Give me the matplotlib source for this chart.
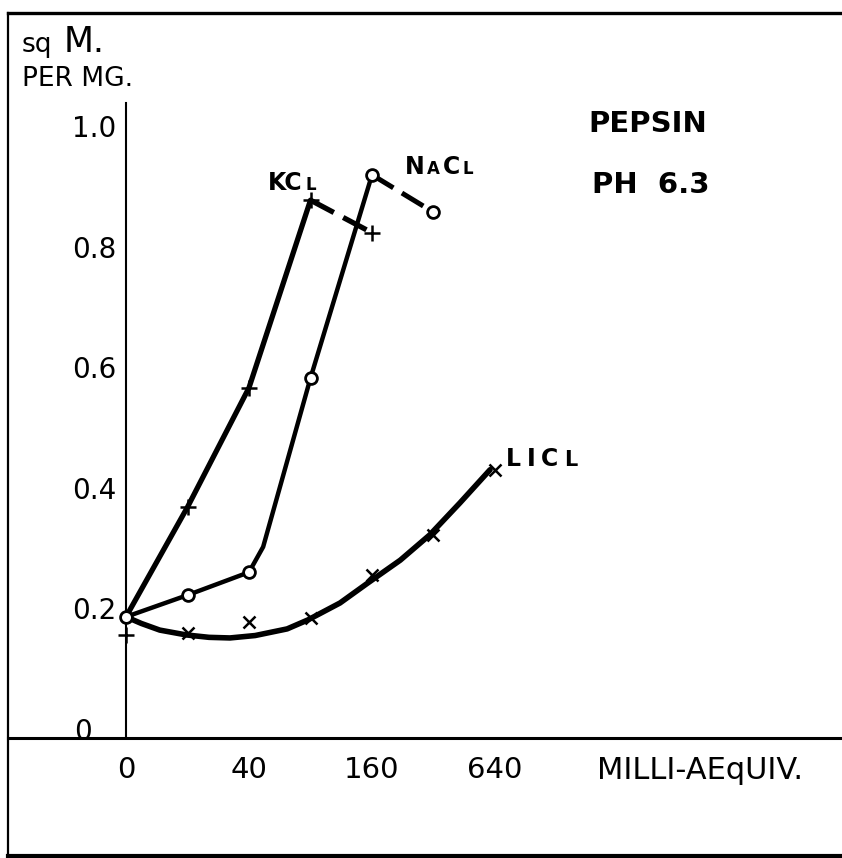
import numpy as np
import matplotlib.pyplot as plt
import matplotlib.transforms as mtransforms
from matplotlib.lines import Line2D
from matplotlib.offsetbox import TextArea, HPacker, AnnotationBbox

plt.rcParams['font.family'] = ['DejaVu Sans']

# x axis is drawn in dilution steps: 0, 20, 40, 80, 160, 320, 640 milli-aequiv.
step_conc = [0, 20, 40, 80, 160, 320, 640]
xtick_steps = [0, 2, 4, 6]
xtick_labels = ["0", "40", "160", "640"]
ytick_vals = [0, 0.2, 0.4, 0.6, 0.8, 1.0]
ytick_labels = ["0", "0.2", "0.4", "0.6", "0.8", "1.0"]

control_val = 0.186          # no salt, common starting point
kcl_zero_val = 0.156

kcl_step = [1, 2, 3, 4]
kcl_val = [0.368, 0.566, 0.877, 0.823]

nacl_step = [0, 1, 2, 3, 4, 5]
nacl_val = [0.186, 0.222, 0.260, 0.582, 0.919, 0.857]
# drawn line for NaCl (bends after the 40 point)
nacl_line_step = [0, 1, 2, 2.23, 3, 4]
nacl_line_val = [0.186, 0.222, 0.260, 0.302, 0.582, 0.919]

licl_step = [1, 2, 3, 4, 5, 6]
licl_val = [0.159, 0.177, 0.184, 0.255, 0.322, 0.430]
# hand drawn smooth curve for LiCl
licl_curve_step = [0, 0.25, 0.55, 0.98, 1.35, 1.69, 2.1, 2.62, 2.96, 3.48, 3.93, 4.46, 4.94, 5.43, 5.92]
licl_curve_val = [0.186, 0.175, 0.164, 0.156, 0.152, 0.151, 0.155, 0.166, 0.181, 0.209, 0.242, 0.280, 0.322, 0.375, 0.430]

fig = plt.figure(figsize=(8.42, 8.58), dpi=100)
ax = fig.add_axes([0, 0, 1, 1])
x0 = -126 / 61.5
ax.set_xlim(x0, (842 - 126) / 61.5)
ax.set_ylim((729 - 858) / 603, 729 / 603)
ax.patch.set_visible(False)

# axes drawn as crossing lines
ax.spines['top'].set_visible(False)
ax.spines['right'].set_visible(False)
ax.spines['left'].set_position(('data', 0))
ax.spines['left'].set_bounds(-0.015, 1.038)
ax.spines['left'].set_linewidth(1.5)
ax.spines['bottom'].set_position(('data', -0.015))
ax.spines['bottom'].set_bounds(x0 + 8 / 61.5, (842 - 126) / 61.5)
ax.spines['bottom'].set_linewidth(2.2)

ax.set_xticks(xtick_steps, xtick_labels, fontsize=21)
ax.set_yticks(ytick_vals, ytick_labels, fontsize=20)
ax.tick_params(axis='x', length=0, pad=13)
ax.tick_params(axis='y', length=0, pad=7)

# the "0" of the value axis sits further left in the drawing
zero_label = ax.get_yticklabels()[0]
zero_label.set_transform(zero_label.get_transform() +
                         mtransforms.ScaledTranslation(-0.24, 0, fig.dpi_scale_trans))

# frame round the whole drawing
fig.add_artist(Line2D([8 / 842, 1], [1 - 13 / 858] * 2, color='black', lw=2.4, transform=fig.transFigure))
fig.add_artist(Line2D([8 / 842] * 2, [1 - 13 / 858, 2 / 858], color='black', lw=1.6, transform=fig.transFigure))
fig.add_artist(Line2D([8 / 842, 1], [2 / 858] * 2, color='black', lw=3, transform=fig.transFigure))

# curves
ax.plot([0] + kcl_step[:3], [control_val] + kcl_val[:3], color='black', lw=3.8, solid_capstyle='round')
ax.plot(kcl_step[2:], kcl_val[2:], color='black', lw=3.8, ls=(0, (5, 2)))
ax.plot(nacl_line_step, nacl_line_val, color='black', lw=3.2, solid_capstyle='round')
ax.plot(nacl_step[4:], nacl_val[4:], color='black', lw=3.6, ls=(0, (5, 2)))
ax.plot(licl_curve_step, licl_curve_val, color='black', lw=4.0, solid_capstyle='round')

# measured points
ax.plot(kcl_step, kcl_val, ls='none', marker='+', ms=11, mew=1.8, color='black', zorder=4)
ax.plot([0], [kcl_zero_val], ls='none', marker='+', ms=11, mew=1.8, color='black', zorder=4)
ax.plot(licl_step, licl_val, ls='none', marker='x', ms=8, mew=1.8, color='black', zorder=4)
ax.plot(nacl_step, nacl_val, ls='none', marker='o', ms=8.5, mew=2.0, mfc='white', mec='black', zorder=5)


def mixed_label(parts, xy, sep=2, weight='bold'):
    boxes = [TextArea(t, textprops=dict(fontsize=s, fontweight=weight, color='black')) for t, s in parts]
    pack = HPacker(children=boxes, align='baseline', pad=0, sep=sep)
    ab = AnnotationBbox(pack, xy, frameon=False, box_alignment=(0.5, 0.5), pad=0)
    ax.add_artist(ab)


mixed_label([("KC", 17), ("L", 12)], (2.70, 0.905))
mixed_label([("N", 17), ("A", 12), ("C", 17), ("L", 12)], (5.09, 0.932), sep=2)
mixed_label([("L", 17), ("I", 17), ("C", 17), ("L", 15)], (6.76, 0.448), sep=4)

ax.text(8.49, 1.003, "PEPSIN", fontsize=21, fontweight='bold', ha='center', va='center')
ax.text(8.54, 0.902, "PH  6.3", fontsize=21, fontweight='bold', ha='center', va='center')
ax.text(9.33, -0.068, "MILLI-AEqUIV.", fontsize=22, ha='center', va='center')

# y axis title in the top left corner
ax.text(22 / 842, 1 - 52 / 858, "sq", transform=ax.transAxes, fontsize=19, va='baseline')
ax.text(64 / 842, 1 - 52 / 858, "M.", transform=ax.transAxes, fontsize=25, va='baseline')
ax.text(22 / 842, 1 - 86 / 858, "PER MG.", transform=ax.transAxes, fontsize=19,
        ha='left', va='baseline')

fig.savefig("out.png", dpi=100)
